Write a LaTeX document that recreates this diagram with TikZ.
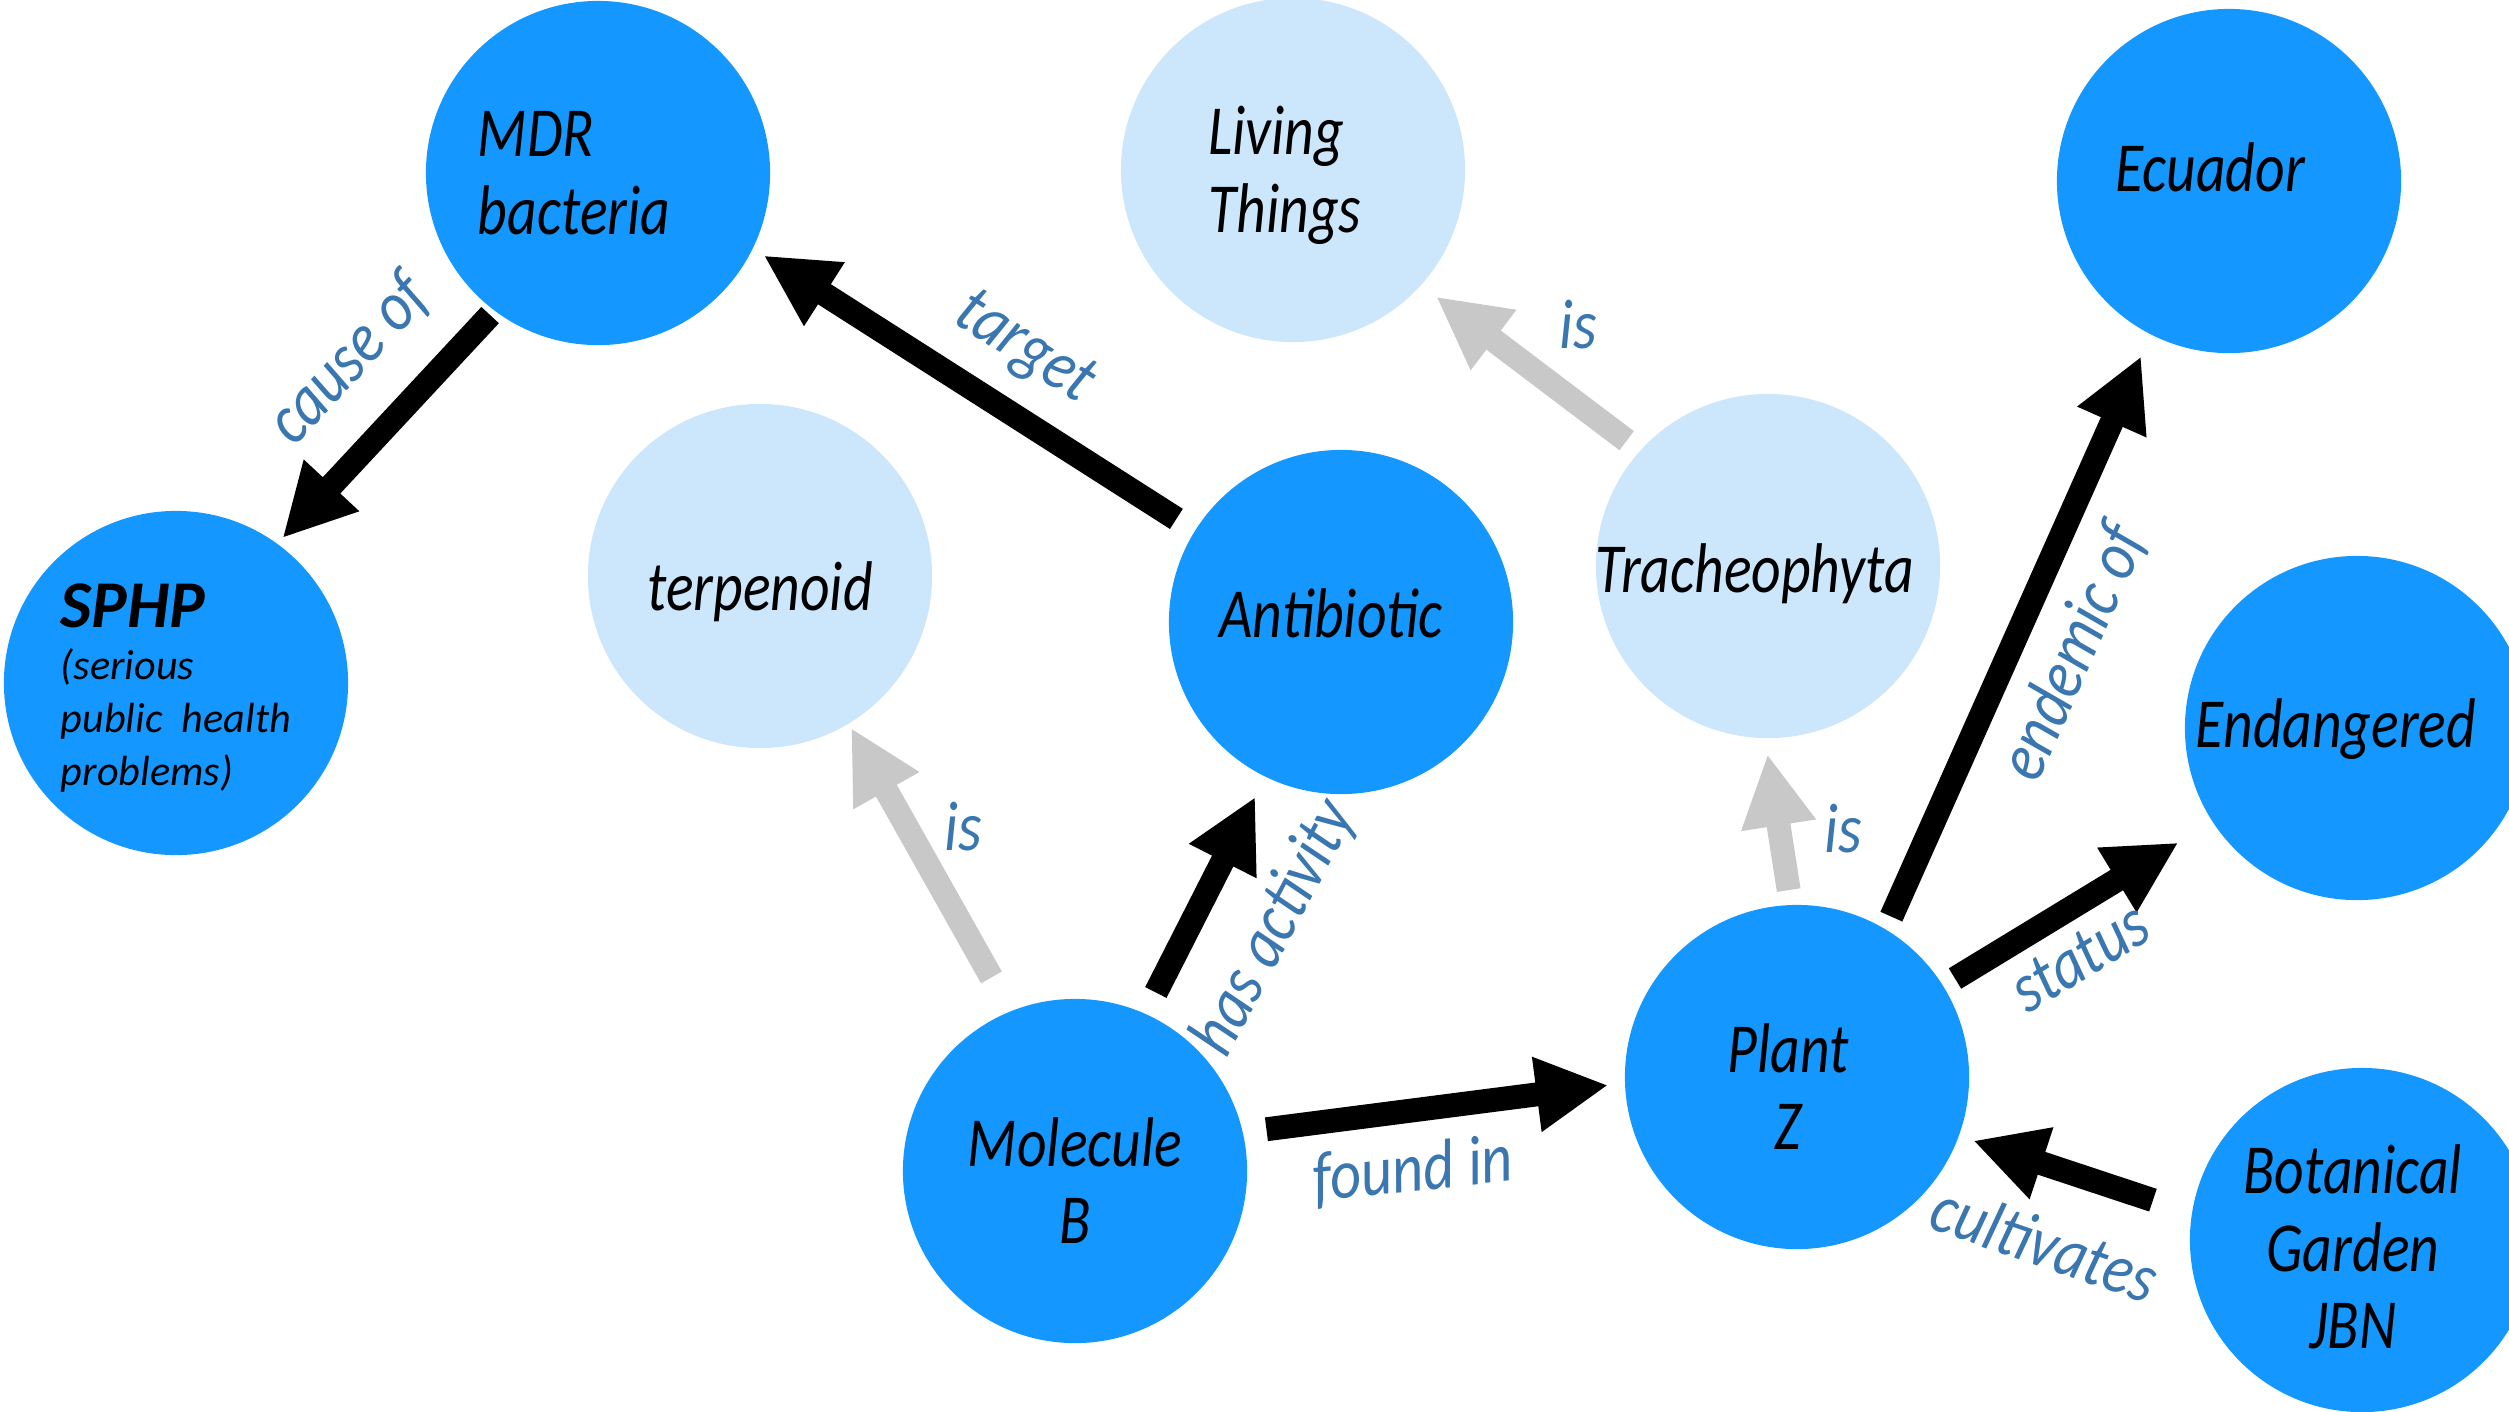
\documentclass[tikz,border=0pt]{standalone}
\usepackage{fontspec}
\setmainfont{Carlito}
\newfontfamily\narrowfont[FakeStretch=0.82]{Carlito}
\newfontfamily\labelfont[FakeStretch=0.86]{Carlito}
\usetikzlibrary{arrows.meta}
\definecolor{nodeblue}{HTML}{1497FE}
\definecolor{paleblue}{HTML}{CCE7FC}
\definecolor{relblue}{HTML}{3A76AF}
\definecolor{isgray}{HTML}{C8C8C8}
% text of an entity: column, x shift, first baseline height over centre, lines
\newcommand{\entitytext}[4]{\raisebox{#3}[0pt][0pt]{\makebox[0pt]{\hspace*{#2}\begin{tabular}[t]{@{}#1@{}}#4\end{tabular}\hspace*{-#2}}}}
\begin{document}
\begin{tikzpicture}[x=0.01cm,y=-0.01cm,
  ent/.style={circle,fill=nodeblue,minimum size=3.44cm,inner sep=0pt,outer sep=0pt,
    font=\narrowfont\itshape\fontsize{20}{22}\selectfont},
  cls/.style={ent,fill=paleblue},
  rel/.style={line width=6.8pt,-{Triangle[length=20.5pt,width=20pt]}},
  isrel/.style={rel,color=isgray},
  lbl/.style={text=relblue,inner sep=0pt,font=\labelfont\itshape\fontsize{20}{22}\selectfont}]
\path[use as bounding box] (0,0) rectangle (2509,1411);
\clip (0,0) rectangle (2509,1411);
% entities
\node[ent] (mdr) at (598,173) {\entitytext{l}{-6.8pt}{4.6pt}{MDR\\bacteria}};
\node[ent,font=\itshape\fontsize{12}{15}\selectfont] (sphp) at (176,683)
  {\entitytext{l}{0pt}{15.9pt}{{\fontsize{19}{15}\selectfont\bfseries SPHP}\\(serious\\public\ \ health\\problems)}};
\node[cls] (living) at (1293,170) {\entitytext{l}{-2.3pt}{4.3pt}{Living\\Things}};
\node[cls] (terp) at (760,576) {\entitytext{c}{0pt}{-9.7pt}{terpenoid}};
\node[ent] (anti) at (1341,622) {\entitytext{c}{-2.8pt}{-4.3pt}{Antibiotic}};
\node[ent] (ecu) at (2229,181) {\entitytext{c}{-5.4pt}{-3.1pt}{Ecuador}};
\node[cls] (trach) at (1768,566) {\entitytext{c}{-3.8pt}{-7.4pt}{Tracheophyta}};
\node[ent] (endang) at (2357,728) {\entitytext{c}{-6pt}{-5.4pt}{Endangered}};
\node[ent] (mol) at (1075,1171) {\entitytext{c}{0pt}{1.4pt}{Molecule\\B}};
\node[ent] (plant) at (1797,1077) {\entitytext{c}{-2.6pt}{1.4pt}{Plant\\Z}};
\node[ent] (bot) at (2362,1240) {\entitytext{c}{-2.6pt}{13.1pt}{Botanical\\Garden\\JBN}};
% relations
\draw[rel,shorten <=1.8pt,shorten >=2.2pt] (mdr.233) -- (sphp.54);
\draw[rel,shorten <=6.3pt,shorten >=3.7pt] (anti.148) -- (mdr.334);
\draw[isrel,shorten <=4.8pt,shorten >=5.4pt] (trach.138) -- (living.318);
\draw[isrel,shorten <=11.1pt,shorten >=1.4pt] (mol.112) -- (terp.301);
\draw[rel,shorten <=6.8pt,shorten >=6.4pt] (mol.66) -- (anti.244);
\draw[rel,shorten <=6.8pt,shorten >=4.8pt] (mol.13) -- (plant.182);
\draw[isrel,shorten <=4.3pt,shorten >=4.6pt] (plant.92) -- (trach.269);
\draw[rel,shorten <=4pt,shorten >=6.8pt] (plant.59) -- (ecu.243);
\draw[rel,shorten <=4pt,shorten >=11.4pt] (plant.32) -- (endang.213);
\draw[rel,shorten <=11.7pt,shorten >=4.3pt] (bot.171) -- (plant.340);
% relation labels
\node[lbl,rotate=47] (causeof) at (349,360) {cause of};
\node[lbl,rotate=-33] (target) at (1024,349) {target};
\node[lbl] (isliving) at (1578,325) {is};
\node[lbl] (isterp) at (963,827) {is};
\node[lbl,rotate=62] (hasact) at (1275,928) {has activity};
\node[lbl,rotate=6] (foundin) at (1413,1171) {found in};
\node[lbl] (istrach) at (1843,829) {is};
\node[lbl,rotate=66] (endemic) at (2074,653) {endemic of};
\node[lbl,rotate=31] (status) at (2080,957) {status};
\node[lbl,rotate=-19] (cultiv) at (2045,1243) {cultivates};
\end{tikzpicture}
\end{document}
